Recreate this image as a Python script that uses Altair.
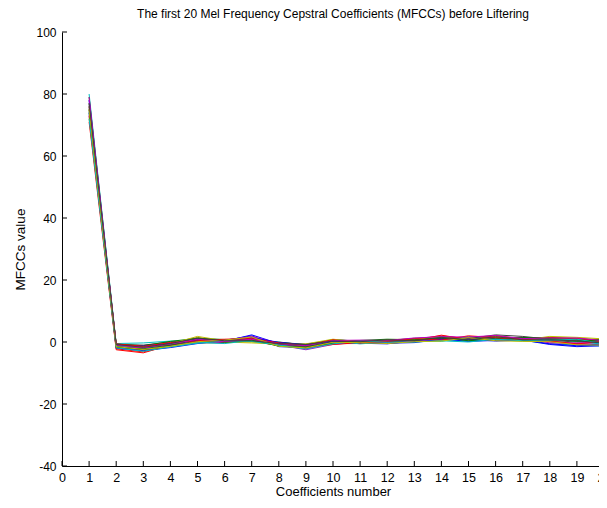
import altair as alt
import pandas as pd

coefficients = list(range(1, 21))
x_ticks = list(range(0, 21))
y_ticks = [-40, -20, 0, 20, 40, 60, 80, 100]

frame01 = [77, -1.5, -2.0, -0.8, 0.5, 0.2, 2.3, -0.5, -1.0, 0.3, 0.0, -0.2, 0.5, 1.2, 1.0, 1.5, 1.0, 0.2, -0.5, -1.0]
frame02 = [75, -1.0, -1.5, -1.0, 1.0, 0.5, 0.8, -0.8, -1.5, 0.0, -0.3, 0.3, 0.8, 1.5, 0.8, 1.0, 1.3, 1.2, 0.8, 0.2]
frame03 = [73, -2.2, -3.2, -1.2, -0.3, -0.2, 0.3, -1.2, -2.0, -0.5, -0.5, 0.5, 0.3, 0.8, 1.5, 1.2, 0.8, 0.5, 1.0, 0.5]
frame04 = [80, -0.5, -0.3, 0.3, 0.5, 0.8, 0.5, -0.3, -0.8, 0.5, 0.2, -0.5, 0.2, 0.5, 0.3, 1.0, 0.5, -0.5, -1.0, -1.3]
frame05 = [78, -1.8, -2.5, -1.5, 0.2, -0.3, 1.5, -1.0, -2.5, -0.8, 0.0, 0.0, 1.0, 2.0, 1.0, 0.8, 1.0, 0.0, -0.8, -0.5]
frame06 = [72, -1.2, -1.8, -0.5, 1.5, 0.0, -0.3, -0.6, -1.2, 0.2, -0.2, 0.2, 0.6, 1.0, 1.2, 1.8, 0.8, 1.0, 0.5, -0.3]
frame07 = [76, -0.8, -1.0, 0.0, 0.8, 0.3, 1.0, -0.2, -0.7, 0.6, 0.4, 0.3, 0.0, 1.8, 0.5, 1.3, 1.5, 0.5, 0.0, 0.0]
frame08 = [74, -2.0, -2.8, -1.8, -0.5, 0.5, 2.0, -1.5, -1.8, -0.2, -0.4, -0.6, 0.4, 1.0, 0.2, 0.5, 0.8, -0.6, -1.2, -0.8]
frame09 = [79, -0.7, -1.2, 0.2, 1.2, 0.8, 0.2, 0.0, -1.0, 0.8, 0.2, 0.4, 1.2, 1.3, 1.5, 0.6, 1.2, 1.5, 1.0, 0.8]
frame10 = [71, -2.5, -3.5, -1.0, 0.0, 0.2, 0.8, -0.8, -1.6, -0.8, -0.2, 0.6, 0.5, 2.2, 0.8, 2.0, 1.0, 1.4, 1.2, 0.3]
frame11 = [76, -1.3, -2.3, -1.3, -0.2, -0.5, 0.5, -1.1, -1.3, 0.4, -0.6, 0.0, 0.8, 0.2, 1.8, 0.7, 0.3, 0.8, 0.3, -0.8]
frame12 = [73, -1.6, -2.0, -0.3, 0.7, 0.6, 1.8, -0.4, -2.2, -0.3, 0.3, -0.3, 0.2, 0.7, 1.3, 1.0, 1.2, -0.3, -0.3, 0.0]
frame13 = [77, -0.9, -1.6, -0.6, 1.8, 0.4, 0.0, -0.9, -0.6, 0.9, 0.0, 0.8, 0.9, 1.6, 0.6, 1.6, 0.6, 1.8, 1.5, 1.0]
frame14 = [75, -1.4, -2.6, -1.1, 0.3, 0.1, 1.2, -0.7, -1.4, 0.1, 0.1, 0.1, 0.6, 1.1, 1.1, 2.3, 1.8, 0.9, 0.6, -0.2]
frame15 = [78, -1.1, -1.3, -0.4, 0.6, 0.7, 1.4, -0.1, -0.9, 0.2, -0.1, -0.4, -0.2, 0.9, 0.9, 0.3, 0.6, -0.8, -1.5, -1.2]
frame16 = [74, -1.7, -2.2, -0.9, 1.1, -0.1, 0.6, -1.3, -1.7, -0.4, 0.5, 0.9, 0.7, 1.4, 0.4, 1.1, 1.4, 1.1, 0.2, 0.6]
frame17 = [76, -0.6, -1.4, -0.2, 0.4, 0.9, 1.1, -0.3, -1.1, 0.7, -0.3, 0.2, 1.1, 0.6, 2.0, 1.4, 0.9, 0.3, -0.6, 0.1]
frame18 = [72, -1.9, -3.0, -1.6, -0.4, 0.3, 0.2, -1.0, -2.3, -0.6, 0.3, -0.1, 0.0, 0.4, 0.0, 0.9, 0.4, 0.6, 0.9, -0.6]
frame19 = [79, -1.0, -1.9, -0.7, 0.9, 0.1, 0.9, -0.6, -1.2, 0.5, 0.6, 0.5, 1.3, 1.7, 1.6, 2.1, 1.1, 1.3, 1.3, 0.4]
frame20 = [75, -1.5, -2.4, -1.4, 0.1, 0.6, 1.6, -1.4, -1.9, -0.1, -0.2, -0.5, 0.1, 0.3, 1.4, 0.4, 0.2, 0.1, -0.9, -1.0]
frame21 = [77, -0.8, -1.7, -0.5, 1.3, 0.4, 0.4, -0.5, -0.8, 0.3, 0.1, 0.7, 0.4, 1.5, 0.7, 1.7, 0.7, 0.7, 0.4, -0.4]

frames = [frame01, frame02, frame03, frame04, frame05, frame06, frame07,
          frame08, frame09, frame10, frame11, frame12, frame13, frame14,
          frame15, frame16, frame17, frame18, frame19, frame20, frame21]

matlab_colors = ["#0000FF", "#008000", "#FF0000", "#00BFBF", "#BF00BF", "#BFBF00", "#404040"]

rows = []
frame_names = []
for i, fr in enumerate(frames):
    name = f"f{i+1:02d}"
    frame_names.append(name)
    for c, v in zip(coefficients, fr):
        rows.append({"frame": name, "coef": c, "value": v})
df = pd.DataFrame(rows)
color_range = [matlab_colors[i % len(matlab_colors)] for i in range(len(frames))]

FONT = "Liberation Sans, Arial"

xscale = alt.Scale(domain=[0, 20], nice=False, zero=False)
yscale = alt.Scale(domain=[-40, 100], nice=False, zero=False)

xaxis = alt.Axis(values=x_ticks, title="Coefficients number", labelExpr="'' + datum.value",
                 labelPadding=5, titlePadding=2, labelFlush=False, labelOverlap=False,
                 labelFontSize=12.5, titleFontSize=13,
                 grid=False, ticks=False, tickSize=0)
yaxis = alt.Axis(values=y_ticks, title="MFCCs value", labelExpr="'' + datum.value",
                 labelPadding=6, titlePadding=8, labelFlush=False, labelOverlap=False,
                 labelFontSize=12, titleFontSize=13.5,
                 grid=False, ticks=False, tickSize=0)

lines = alt.Chart(df).mark_line(strokeWidth=1, clip=True).encode(
    x=alt.X("coef:Q", scale=xscale, axis=xaxis),
    y=alt.Y("value:Q", scale=yscale, axis=yaxis),
    color=alt.Color("frame:N", scale=alt.Scale(domain=frame_names, range=color_range), legend=None),
    detail="frame:N",
    order=alt.Order("coef:Q"),
)

xt = alt.Chart(pd.DataFrame({"t": x_ticks})).mark_rule(color="black", strokeWidth=1).encode(
    x=alt.X("t:Q", scale=xscale, axis=xaxis),
    y=alt.value(434),
    y2=alt.value(429),
)
yt = alt.Chart(pd.DataFrame({"t": y_ticks})).mark_rule(color="black", strokeWidth=1).encode(
    y=alt.Y("t:Q", scale=yscale, axis=yaxis),
    x=alt.value(0),
    x2=alt.value(5),
)

chart = alt.layer(lines, xt, yt).properties(
    width=542,
    height=434,
    background="white",
    title=alt.TitleParams(
        "The first 20 Mel Frequency Cepstral Coefficients (MFCCs) before Liftering",
        font=FONT, fontSize=12, fontWeight="normal", color="black", offset=5, anchor="middle",
    ),
    autosize=alt.AutoSizeParams(type="none"),
    padding={"left": 54, "top": 24, "right": -5, "bottom": 34},
).configure_view(stroke=None).configure_axis(
    grid=False, ticks=False, tickSize=0, domainColor="black", domainWidth=1,
    labelFont=FONT, labelColor="black",
    titleFont=FONT, titleFontWeight="normal", titleColor="black",
)

chart.save("out.html", embed_options={"renderer": "svg", "actions": False})
